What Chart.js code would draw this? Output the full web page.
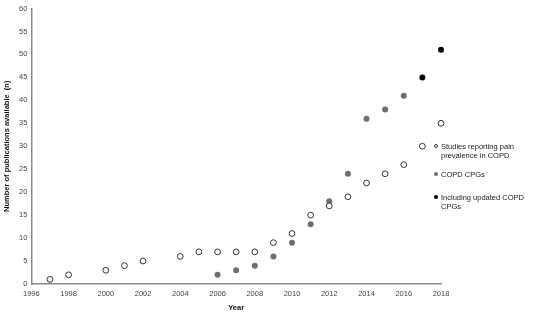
<!DOCTYPE html>
<html>
<head>
<meta charset="utf-8">
<script src="https://cdn.jsdelivr.net/npm/chart.js@4"></script>
<style>
	html, body { margin: 0; padding: 0; background: #fff; }
	#wrap { position: relative; width: 550px; height: 313px; }
	#legend { position: absolute; left: 434px; top: 142px; font-family: 'Liberation Sans', Arial, sans-serif; font-size: 7.5px; color: #222; line-height: 9px; }
	.item { position: relative; padding-left: 7px; margin-bottom: 10px; }
	.dot { position: absolute; left: 0; top: 2px; width: 4px; height: 4px; border-radius: 50%; box-sizing: border-box; }
</style>
</head>
<body>
<div id="wrap">
	<canvas id="pubChart" width="550" height="313"></canvas>
	<div id="legend">
		<div class="item"><span class="dot" style="border:1px solid #333;background:#fff"></span>Studies reporting pain<br>prevalence in COPD</div>
		<div class="item" style="margin-bottom:14px"><span class="dot" style="background:#6e6e6e"></span>COPD CPGs</div>
		<div class="item"><span class="dot" style="background:#000"></span>Including updated COPD<br>CPGs</div>
	</div>
</div>
<script>
// ===== DATA =====
const studyYears = [1997, 1998, 2000, 2001, 2002, 2004, 2005, 2006, 2007, 2008, 2009, 2010, 2011, 2012, 2013, 2014, 2015, 2016, 2017, 2018];
const studyCounts = [1, 2, 3, 4, 5, 6, 7, 7, 7, 7, 9, 11, 15, 17, 19, 22, 24, 26, 30, 35];

const cpgYears = [2006, 2007, 2008, 2009, 2010, 2011, 2012, 2013, 2014, 2015, 2016];
const cpgCounts = [2, 3, 4, 6, 9, 13, 18, 24, 36, 38, 41];

const updatedYears = [2017, 2018];
const updatedCounts = [45, 51];

const labels = ['Studies reporting pain prevalence in COPD', 'COPD CPGs', 'Including updated COPD CPGs'];

const toPoints = (xs, ys) => xs.map((x, i) => ({ x: x, y: ys[i] }));

// ===== CHART =====
const ctx = document.getElementById('pubChart').getContext('2d');
const tickFont = { family: "'Liberation Sans', Arial, sans-serif", size: 7.5 };
const titleFont = { family: "'Liberation Sans', Arial, sans-serif", size: 7.5, weight: 'bold' };

new Chart(ctx, {
	type: 'scatter',
	data: {
		datasets: [{
			label: labels[0],
			data: toPoints(studyYears, studyCounts),
			backgroundColor: '#ffffff',
			borderColor: '#333333',
			borderWidth: 1,
			pointRadius: 2.9,
			clip: false
		}, {
			label: labels[1],
			data: toPoints(cpgYears, cpgCounts),
			backgroundColor: '#6e6e6e',
			borderColor: '#6e6e6e',
			borderWidth: 0,
			pointRadius: 3,
			clip: false
		}, {
			label: labels[2],
			data: toPoints(updatedYears, updatedCounts),
			backgroundColor: '#000000',
			borderColor: '#000000',
			borderWidth: 0,
			pointRadius: 3,
			clip: false
		}]
	},
	options: {
		responsive: false,
		animation: false,
		layout: { padding: { left: 2, right: 109, top: 5, bottom: 1 } },
		plugins: {
			legend: { display: false },
			tooltip: { enabled: false }
		},
		scales: {
			x: {
				type: 'linear',
				min: 1996,
				max: 2018,
				border: { color: '#8a8a8a', width: 1.5 },
				grid: { display: false, drawTicks: false },
				ticks: { stepSize: 2, color: '#444', font: tickFont, padding: 5, callback: v => String(v) },
				title: { display: true, text: 'Year', color: '#111', font: titleFont, padding: { top: 0, bottom: 0 } }
			},
			y: {
				min: 0,
				max: 60,
				border: { color: '#8a8a8a', width: 1.5 },
				grid: { display: false, drawTicks: false },
				ticks: { stepSize: 5, color: '#444', font: tickFont, padding: 4 },
				title: { display: true, text: 'Number of publications available  (n)', color: '#111', font: titleFont, padding: { top: 0, bottom: 4 } }
			}
		}
	}
});
</script>
</body>
</html>
